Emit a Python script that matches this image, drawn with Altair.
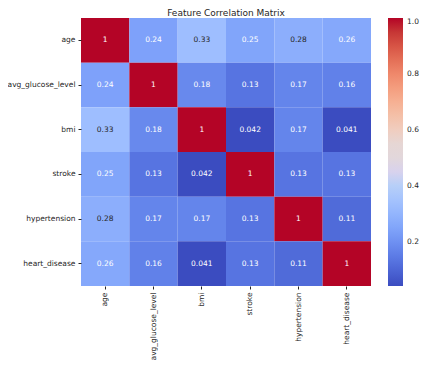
import altair as alt
import pandas as pd

features = ["age", "avg_glucose_level", "bmi", "stroke", "hypertension", "heart_disease"]
row_age = [1, 0.24, 0.33, 0.25, 0.28, 0.26]
row_glucose = [0.24, 1, 0.18, 0.13, 0.17, 0.16]
row_bmi = [0.33, 0.18, 1, 0.042, 0.17, 0.041]
row_stroke = [0.25, 0.13, 0.042, 1, 0.13, 0.13]
row_hyper = [0.28, 0.17, 0.17, 0.13, 1, 0.11]
row_heart = [0.26, 0.16, 0.041, 0.13, 0.11, 1]
rows = [row_age, row_glucose, row_bmi, row_stroke, row_hyper, row_heart]
legend_ticks = [0.2, 0.4, 0.6, 0.8, 1.0]

records = []
for rname, vals in zip(features, rows):
    for cname, v in zip(features, vals):
        records.append({"row": rname, "col": cname, "value": v})
df = pd.DataFrame(records)

coolwarm = ["#3b4cc0", "#5977e3", "#7b9ff9", "#9ebeff", "#c0d4f5", "#dddcdc",
            "#f2cbb7", "#f7ac8e", "#ee8468", "#d65244", "#b40426"]
vmin, vmax = 0.041, 1.0
stops = [vmin + i * (vmax - vmin) / (len(coolwarm) - 1) for i in range(len(coolwarm))]

FONT = "DejaVu Sans"
AXFS = 7.5

base = alt.Chart(df).encode(
    x=alt.X("col:N", sort=features, title=None,
            scale=alt.Scale(paddingInner=0, paddingOuter=0),
            axis=alt.Axis(labelAngle=270, labelFontSize=AXFS, labelColor="#262626",
                          tickSize=3, tickColor="#262626", domain=False,
                          labelPadding=3, labelAlign="right", labelBaseline="middle")),
    y=alt.Y("row:N", sort=features, title=None,
            scale=alt.Scale(paddingInner=0, paddingOuter=0),
            axis=alt.Axis(labelFontSize=AXFS, labelColor="#262626", tickSize=3,
                          tickColor="#262626", domain=False, labelPadding=3)),
)

rects = base.mark_rect().encode(
    color=alt.Color("value:Q",
                    scale=alt.Scale(domain=stops, range=coolwarm),
                    legend=alt.Legend(title=None, values=legend_ticks, format=".1f",
                                      gradientLength=268, gradientThickness=15,
                                      labelFontSize=AXFS, labelColor="#262626",
                                      offset=17, padding=0, labelOffset=4,
                                      gradientStrokeWidth=0))
)

texts = base.mark_text(fontSize=AXFS, font=FONT).encode(
    text=alt.Text("value:Q", format=".2~g"),
    color=alt.condition("datum.value > 0.27 && datum.value < 0.9",
                        alt.value("#262626"), alt.value("#ffffff")),
)

chart = (rects + texts).properties(
    width=290, height=268,
    title=alt.TitleParams("Feature Correlation Matrix", fontSize=9, fontWeight="normal",
                          font=FONT, color="#262626", offset=3, dy=3),
    autosize=alt.AutoSizeParams(type="none"),
    padding={"left": 73, "top": 10, "right": 49, "bottom": 74},
).configure(font=FONT).configure_view(stroke=None)

chart.save("out.html", embed_options={"renderer": "svg", "actions": False})
